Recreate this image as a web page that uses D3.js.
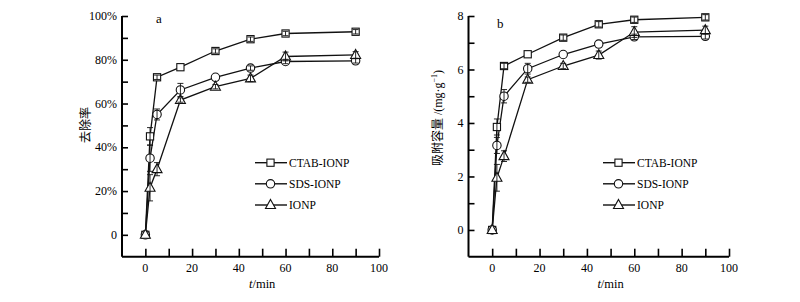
<!DOCTYPE html>
<html>
<head>
<meta charset="utf-8">
<script src="https://cdnjs.cloudflare.com/ajax/libs/d3/7.8.5/d3.min.js"></script>
<style>
  body { margin: 0; background: #fff; }
  svg { display: block; }
  text { font-family: "Liberation Serif", "Noto Sans CJK SC", serif; fill: #000; }
</style>
</head>
<body>
<div id="chart"></div>
<script>
//時間 (min)
var times = [0, 2, 5, 15, 30, 45, 60, 90];
var seriesNames = ["CTAB-IONP", "SDS-IONP", "IONP"];

//去除率 (%)
var removalCTAB = [0, 45, 72, 76.6, 84, 89.4, 92, 92.8];
var removalSDS = [0, 35, 55, 66.2, 72, 76.2, 79.2, 79.5];
var removalIONP = [0, 21.5, 30, 61.6, 67.7, 71.5, 81.5, 82.2];
var removalErrCTAB = [0, 4, 1, 0, 1, 1, 1, 1];
var removalErrSDS = [0, 6, 2.5, 3, 0, 1, 1, 1];
var removalErrIONP = [0, 6, 3, 1, 1, 1.5, 2, 1.5];

//吸附容量 (mg/g)
var capacityCTAB = [0, 3.85, 6.13, 6.57, 7.19, 7.69, 7.86, 7.95];
var capacitySDS = [0, 3.16, 5.0, 6.03, 6.56, 6.95, 7.22, 7.24];
var capacityIONP = [0, 1.95, 2.76, 5.62, 6.13, 6.54, 7.4, 7.47];
var capacityErrCTAB = [0, 0.3, 0.1, 0, 0.1, 0.1, 0.1, 0.1];
var capacityErrSDS = [0, 0.3, 0.25, 0.2, 0, 0, 0.1, 0.1];
var capacityErrIONP = [0, 0.5, 0.2, 0.1, 0.1, 0.15, 0.2, 0.15];

//軸の目盛り
var xTicks = [0, 10, 20, 30, 40, 50, 60, 70, 80, 90, 100];
var removalTicks = [0, 10, 20, 30, 40, 50, 60, 70, 80, 90, 100];
var capacityTicks = [0, 1, 2, 3, 4, 5, 6, 7, 8];

var svg = d3.select("#chart").append("svg").attr("width", 800).attr("height", 302);

drawPanel({
    left: 122, right: 379, top: 16, bottom: 256.7,
    yDomain: [-10, 100], yTicks: removalTicks, yLabelEvery: 20,
    yFormat: function (d) { return d == 0 ? "0" : d + "%"; },
    series: [removalCTAB, removalSDS, removalIONP],
    errors: [removalErrCTAB, removalErrSDS, removalErrIONP],
    letter: "a", letterX: 156, letterY: 23,
    legendX: 255,
    titleX: 86, titleY: 125, title: ["去除率"]
});

drawPanel({
    left: 468.5, right: 729, top: 16, bottom: 256.7,
    yDomain: [-1, 8], yTicks: capacityTicks, yLabelEvery: 2,
    yFormat: function (d) { return String(d); },
    series: [capacityCTAB, capacitySDS, capacityIONP],
    errors: [capacityErrCTAB, capacityErrSDS, capacityErrIONP],
    letter: "b", letterX: 497, letterY: 28,
    legendX: 603,
    titleX: 438, titleY: 118, title: ["吸附容量 /(mg·g", "−1", ")"]
});

function drawMarker(g, type, x, y) {
    if (type == 0) {
        g.append("rect").attr("x", x - 3.6).attr("y", y - 3.6).attr("width", 7.2).attr("height", 7.2)
            .attr("fill", "#fff").attr("stroke", "#111").attr("stroke-width", 1.1);
    } else if (type == 1) {
        g.append("circle").attr("cx", x).attr("cy", y).attr("r", 4.2)
            .attr("fill", "#fff").attr("stroke", "#111").attr("stroke-width", 1.1);
    } else {
        g.append("path").attr("d", "M" + x + "," + (y - 5.5) + "L" + (x + 5) + "," + (y + 3.5) + "L" + (x - 5) + "," + (y + 3.5) + "Z")
            .attr("fill", "#fff").attr("stroke", "#111").attr("stroke-width", 1.1);
    }
}

function drawPanel(p) {
    var g = svg.append("g");

    //スケール
    var xScale = d3.scaleLinear().domain([-10, 100]).range([p.left, p.right]);
    var yScale = d3.scaleLinear().domain(p.yDomain).range([p.bottom, p.top]);

    //x軸
    var xAxis = g.append("g")
        .attr("transform", "translate(0," + p.bottom + ")")
        .call(d3.axisTop(xScale).tickValues(xTicks).tickSize(8).tickFormat(""));
    xAxis.select(".domain").attr("d", "M" + p.left + ",0H" + p.right).attr("stroke-width", 2);
    xAxis.selectAll(".tick line").attr("stroke-width", 1.6);
    xTicks.filter(function (d) { return d % 20 == 0; }).forEach(function (d) {
        g.append("text").attr("x", xScale(d)).attr("y", p.bottom + 15)
            .attr("text-anchor", "middle").attr("font-size", 12).attr("fill", "#000").text(d);
    });

    //y軸
    var yAxis = g.append("g")
        .attr("transform", "translate(" + p.left + ",0)")
        .call(d3.axisRight(yScale).tickValues(p.yTicks).tickSize(6).tickFormat(""));
    yAxis.select(".domain").attr("d", "M0," + p.top + "V" + p.bottom).attr("stroke-width", 2);
    yAxis.selectAll(".tick line").attr("stroke-width", 1.6);
    p.yTicks.filter(function (d) { return d % p.yLabelEvery == 0; }).forEach(function (d) {
        g.append("text").attr("x", p.left - 5).attr("y", yScale(d)).attr("dy", "0.35em")
            .attr("text-anchor", "end").attr("font-size", 12).attr("fill", "#000").text(p.yFormat(d));
    });

    //軸タイトル
    var xt = g.append("text").attr("x", (xScale(0) + xScale(100)) / 2).attr("y", 288)
        .attr("text-anchor", "middle").attr("font-size", 12.5).attr("fill", "#000");
    xt.append("tspan").attr("font-style", "italic").text("t");
    xt.append("tspan").text("/min");

    var yt = g.append("text").attr("transform", "translate(" + p.titleX + "," + p.titleY + ") rotate(-90)")
        .attr("text-anchor", "middle").attr("font-size", 12).attr("dy", "0.35em").attr("fill", "#000");
    yt.append("tspan").text(p.title[0]);
    if (p.title.length > 1) {
        yt.append("tspan").attr("font-size", 8).attr("dy", -5).text(p.title[1]);
        yt.append("tspan").attr("dy", 5).text(p.title[2]);
    }

    g.append("text").attr("x", p.letterX).attr("y", p.letterY).attr("font-size", 13).attr("fill", "#000").text(p.letter);

    //折れ線
    var line = d3.line()
        .x(function (d, i) { return xScale(times[i]); })
        .y(function (d) { return yScale(d); });

    p.series.forEach(function (values, s) {
        g.append("path").datum(values).attr("d", line)
            .attr("fill", "none").attr("stroke", "#111").attr("stroke-width", 1.3);
    });

    //マーカーと誤差棒
    p.series.forEach(function (values, s) {
        values.forEach(function (v, i) {
            drawMarker(g, s, xScale(times[i]), yScale(v));
        });
    });
    p.series.forEach(function (values, s) {
        values.forEach(function (v, i) {
            var e = p.errors[s][i];
            if (e <= 0) return;
            var x = xScale(times[i]);
            var y1 = yScale(v - e), y2 = yScale(v + e);
            g.append("line").attr("x1", x).attr("x2", x).attr("y1", y1).attr("y2", y2)
                .attr("stroke", "#111").attr("stroke-width", 0.9);
            [y1, y2].forEach(function (yy) {
                g.append("line").attr("x1", x - 3).attr("x2", x + 3).attr("y1", yy).attr("y2", yy)
                    .attr("stroke", "#111").attr("stroke-width", 0.9);
            });
        });
    });

    //凡例
    var legendY = [162.7, 183.8, 205];
    seriesNames.forEach(function (name, s) {
        g.append("line").attr("x1", p.legendX).attr("x2", p.legendX + 32)
            .attr("y1", legendY[s]).attr("y2", legendY[s])
            .attr("stroke", "#111").attr("stroke-width", 1.4);
        drawMarker(g, s, p.legendX + 15.5, legendY[s]);
        g.append("text").attr("x", p.legendX + 34).attr("y", legendY[s]).attr("dy", "0.35em")
            .attr("font-size", 11.5).attr("fill", "#000").text(name);
    });
}
</script>
</body>
</html>
